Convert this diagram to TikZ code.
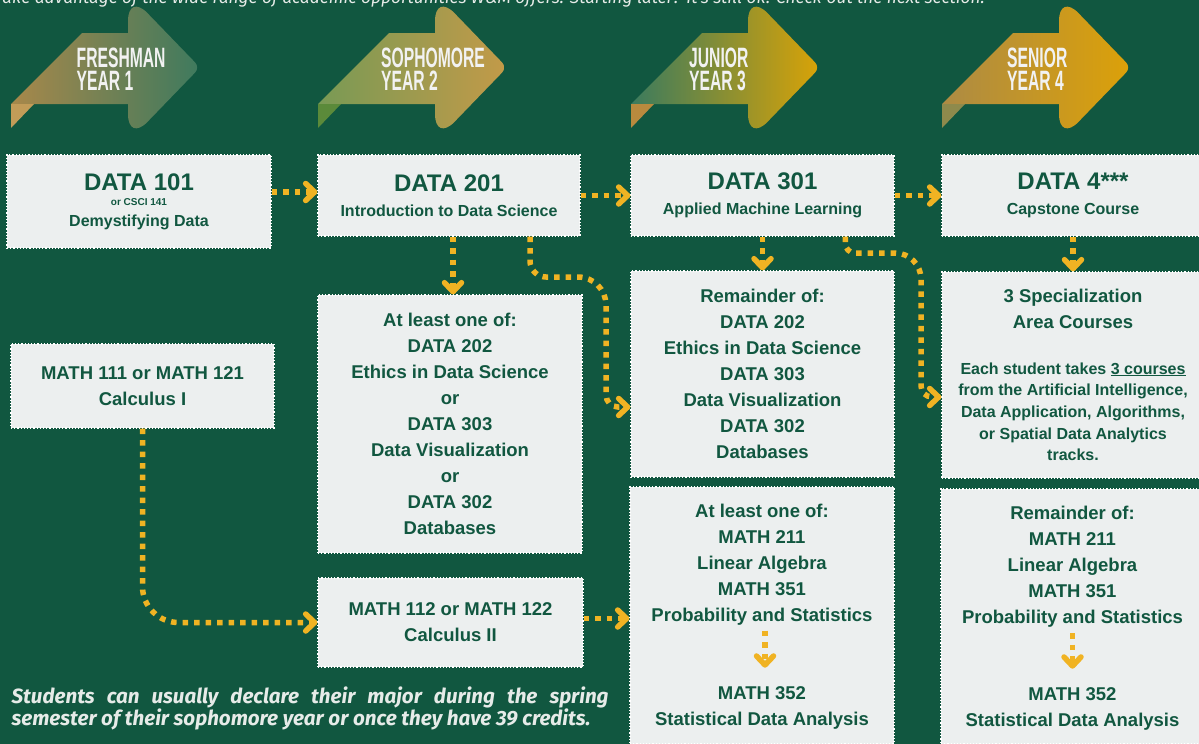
\documentclass[tikz,border=0pt]{standalone}
\usepackage{fontspec}
\setmainfont{Liberation Sans}
\newfontfamily\notefont{Fira Sans}
\usetikzlibrary{arrows.meta}

\definecolor{wmgreen}{HTML}{115740}
\definecolor{wmgold}{HTML}{F0B323}
\definecolor{boxgrey}{HTML}{ECEFEF}
\definecolor{paletext}{HTML}{E6EBE8}
% ribbon shades: left, right, fold
\definecolor{frL}{HTML}{A8884A}
\definecolor{frR}{HTML}{3E7A5E}
\definecolor{frF}{HTML}{C29C58}
\definecolor{soL}{HTML}{789A55}
\definecolor{soR}{HTML}{C39A48}
\definecolor{soF}{HTML}{5B8A3A}
\definecolor{juL}{HTML}{3B7B5E}
\definecolor{juR}{HTML}{D9A307}
\definecolor{juF}{HTML}{B98A3E}
\definecolor{seL}{HTML}{AD8B44}
\definecolor{seR}{HTML}{DCA108}
\definecolor{seF}{HTML}{8E8A4C}

\tikzset{
  course/.style={fill=boxgrey,draw=white,dotted,line width=1.2pt,inner sep=0pt,align=center,
    text=wmgreen,font=\bfseries\fontsize{18.5}{26}\selectfont},
  coursehead/.style={course,font=\bfseries\fontsize{16}{24.5}\selectfont},
  coursetext/.style={inner sep=0pt,align=center,text=wmgreen,font=\bfseries\fontsize{18.5}{26}\selectfont},
  flow/.style={draw=wmgold,line width=5.5pt,dash pattern=on 5.5pt off 6pt,
    -{Straight Barb[length=9pt,width=17pt,round]}},
  yeartext/.style={anchor=base west,inner sep=0pt,text=white!95!black,font=\bfseries\fontsize{28}{23}\selectfont}
}
\newcommand{\coursecode}[1]{{\fontsize{24}{24}\selectfont #1}}
\newcommand{\spectitle}[1]{{\fontsize{18.5}{26}\selectfont #1}}

\begin{document}
\begin{tikzpicture}[x=1pt,y=-1pt]
\useasboundingbox (0,0) rectangle (1199,744);
\clip (0,0) rectangle (1199,744);
\fill[wmgreen] (0,0) rectangle (1199,744);

\node[anchor=base west,inner sep=0pt,text=paletext,font=\notefont\itshape\fontsize{17.3}{18}\selectfont] (intro) at (2,4)
  {ake advantage of the wide range of academic opportunities W\&M offers. Starting later? It's still ok. Check out the next section.};

% year ribbons
\foreach \n/\bx/\tx/\cl/\cr/\cf/\ya/\yb in {1/11/76.5/frL/frR/frF/FRESHMAN/YEAR 1,
    2/318/381/soL/soR/soF/SOPHOMORE/YEAR 2,
    3/631/689/juL/juR/juF/JUNIOR/YEAR 3,
    4/942/1007/seL/seR/seF/SENIOR/YEAR 4}{
  \shade[left color=\cl,right color=\cr] (\bx,104) -- (\bx+71,33) -- (\bx+117,33)
    [rounded corners=28pt] -- (\bx+117,-7) [rounded corners=7pt] -- (\bx+189,67.5)
    [rounded corners=28pt] -- (\bx+117,142) [sharp corners] -- (\bx+117,104) -- cycle;
  \fill[\cf] (\bx,104) -- (\bx+23,104) -- (\bx,128) -- cycle;
  \node[yeartext] (year\n a) at (\tx,67) {\scalebox{0.56}[1]{\ya}};
  \node[yeartext] (year\n b) at (\tx,90) {\scalebox{0.56}[1]{\yb}};
}

% course boxes
\node[coursehead,minimum width=264pt,minimum height=93pt,font=\bfseries\fontsize{16}{15.7}\selectfont] (d101) at (139,201.5)
  {\coursecode{DATA 101}\\{\fontsize{10}{10}\selectfont or CSCI 141}\\[4.6pt]Demystifying Data};
\node[coursehead,minimum width=262pt,minimum height=81pt] (d201) at (449,195.5)
  {\coursecode{DATA 201}\\Introduction to Data Science};
\node[coursehead,minimum width=263pt,minimum height=81pt] (d301) at (762.5,195.5)
  {\coursecode{DATA 301}\\Applied Machine Learning};
\node[coursehead,minimum width=262pt,minimum height=81pt] (d4) at (1073,195.5)
  {\coursecode{DATA 4***}\\Capstone Course};

\node[course,minimum width=263pt,minimum height=84pt] (m111) at (142.5,386)
  {MATH 111 or MATH 121\\Calculus I};
\node[course,minimum width=264pt,minimum height=258pt] (alo201) at (450,424)
  {At least one of:\\DATA 202\\Ethics in Data Science\\or\\DATA 303\\Data Visualization\\or\\DATA 302\\Databases};
\node[course,minimum width=265pt,minimum height=89pt] (m112) at (450.5,622.5)
  {MATH 112 or MATH 122\\Calculus II};

\node[course,minimum width=263pt,minimum height=206pt] (rem301) at (762.5,374)
  {Remainder of:\\DATA 202\\Ethics in Data Science\\DATA 303\\Data Visualization\\DATA 302\\Databases};
\node[course,minimum width=262pt,minimum height=206pt,font=\bfseries\fontsize{16}{21.7}\selectfont] (spec) at (1073,375)
  {\spectitle{3 Specialization}\\[3.9pt]\spectitle{Area Courses}\\[24.3pt]
   Each student takes \underline{3 courses}\\from the Artificial Intelligence,\\Data Application, Algorithms,\\or Spatial Data Analytics\\tracks.};

\node[course,minimum width=264pt,minimum height=257pt] (alom) at (762,615.5) {};
\node[coursetext] (alomtop) at (762,564.9)
  {At least one of:\\MATH 211\\Linear Algebra\\MATH 351\\Probability and Statistics};
\node[coursetext] (alombot) at (762,708.3) {MATH 352\\Statistical Data Analysis};

\node[course,minimum width=263pt,minimum height=255pt] (remm) at (1072.5,616.5) {};
\node[coursetext] (remmtop) at (1072.5,567.2)
  {Remainder of:\\MATH 211\\Linear Algebra\\MATH 351\\Probability and Statistics};
\node[coursetext] (remmbot) at (1072.5,709.3) {MATH 352\\Statistical Data Analysis};

\node[anchor=north west,text width=597pt,align=justify,inner sep=0pt,text=paletext,
  font=\notefont\bfseries\itshape\fontsize{20.6}{16.6}\selectfont] (note) at (11.4,686.5)
  {Students can usually declare their major during the spring\linebreak semester of their sophomore year or once they have 39 credits.};

% connectors
\draw[flow] ([yshift=9.5pt]d101.east) -- ([yshift=3.5pt]d201.west);
\draw[flow] (d201.east) -- (d301.west);
\draw[flow] (d301.east) -- (d4.west);
\draw[flow] ([xshift=4pt]d201.south) -- ([xshift=3pt]alo201.north);
\draw[flow] (d301.south) -- (rem301.north);
\draw[flow] (d4.south) -- (spec.north);
\draw[flow,rounded corners=36pt] (m111.south) |- (m112.west);
\draw[flow] ([yshift=4pt]m112.east) -- ([yshift=-3pt]alom.west);
\draw[flow] ([xshift=81pt]d201.south) [rounded corners=16pt] -- (530,277) [rounded corners=28pt] -- (606,277)
  [rounded corners=12pt] -- (606,407) [sharp corners] -- ([yshift=-33pt]rem301.west);
\draw[flow] ([xshift=83pt]d301.south) [rounded corners=10pt] -- (845,253) [rounded corners=26pt] -- (921,253)
  [rounded corners=11pt] -- (921,397) [sharp corners] -- ([yshift=-22pt]spec.west);
\draw[flow] ([xshift=3pt,yshift=-5pt]alomtop.south) -- ([xshift=3pt,yshift=19pt]alombot.north);
\draw[flow] ([yshift=-5pt]remmtop.south) -- ([yshift=19pt]remmbot.north);
\end{tikzpicture}
\end{document}
